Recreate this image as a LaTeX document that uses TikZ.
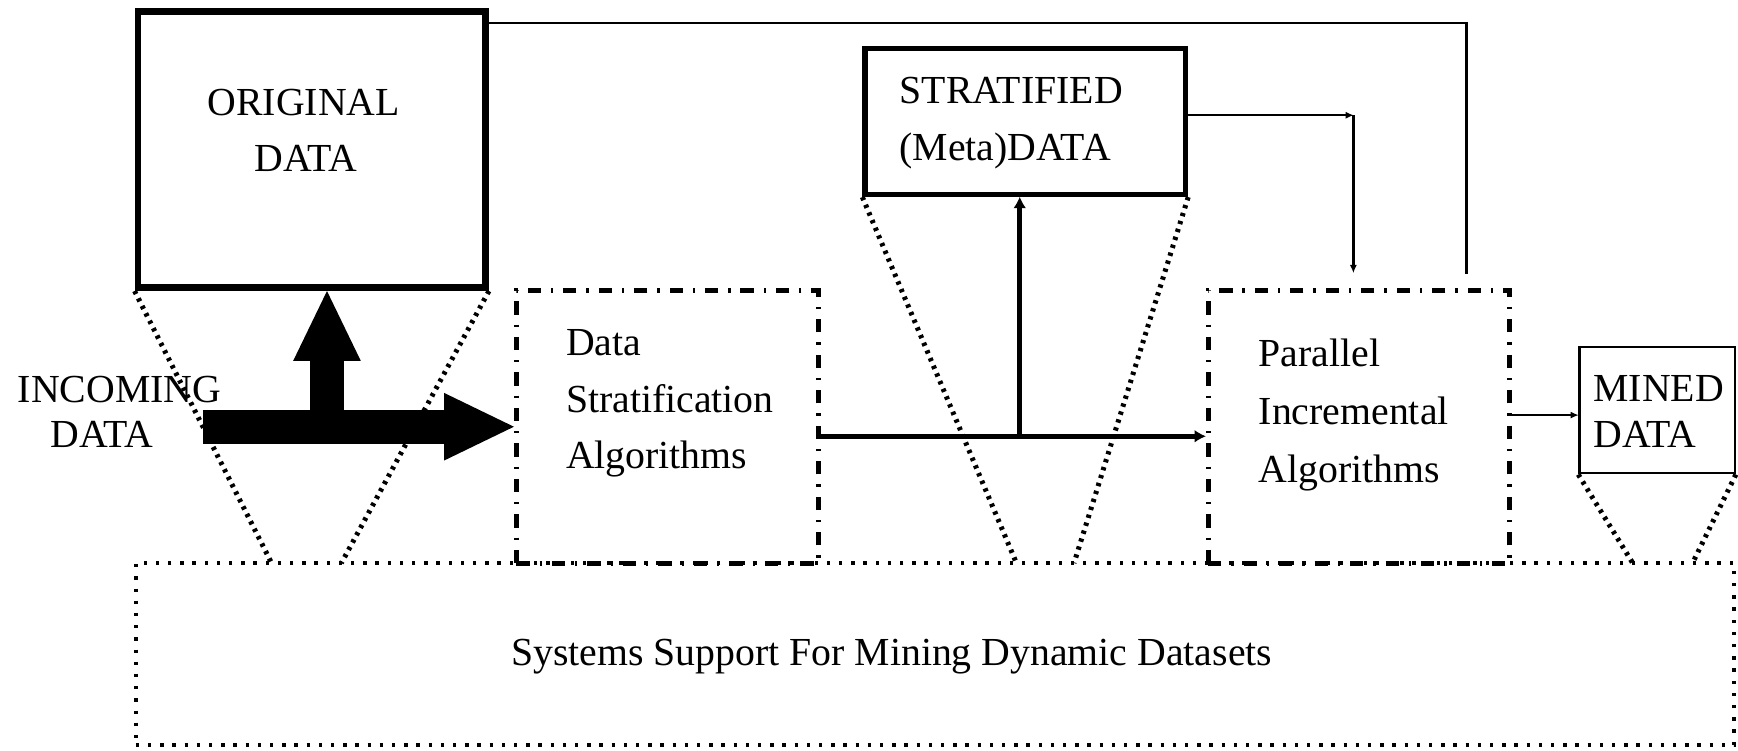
\documentclass[tikz,border=0pt]{standalone}
\usepackage{fontspec}
\setmainfont{Liberation Serif}
\usetikzlibrary{arrows.meta}
\begin{document}
\begin{tikzpicture}[
  x=0.01cm, y=-0.01cm,
  txt/.style={inner sep=0pt, font=\fontsize{10.2}{12}\selectfont},
  solidbox/.style={draw, inner sep=0pt, line width=#1},
  algobox/.style={draw, inner sep=0pt, line width=0.045cm,
    dash pattern=on 0.12cm off 0.09cm on 0.02cm off 0.09cm},
  supportbox/.style={draw, inner sep=0pt, line width=0.042cm,
    dash pattern=on 0.03cm off 0.08cm},
  funnel/.style={line width=0.045cm, dash pattern=on 0.03cm off 0.045cm},
  thinline/.style={line width=0.6pt},
  thinarrow/.style={thinline, -{Latex[length=0.07cm, width=0.06cm, line width=0pt]}},
  thickarrow/.style={line width=0.045cm, -{Latex[length=0.1cm, width=0.11cm, line width=0pt]}},
  bigarrow/.style={line width=0.31cm, -{Triangle[length=0.63cm, width=0.61cm, line width=0pt]}},
]
\fill[white] (0,0) rectangle (1568,677);
\useasboundingbox (0,0) rectangle (1568,677);

% support layer along the bottom
\node[supportbox, minimum width=14.41cm, minimum height=1.64cm] (sys) at (843.5,590) {};
\node[txt, anchor=base] (sysT) at (804.5,600) {Systems Support For Mining Dynamic Datasets};

% data stores
\node[solidbox=0.06cm, minimum width=3.135cm, minimum height=2.49cm] (orig) at (281.25,135) {};
\node[solidbox=0.048cm, minimum width=2.89cm, minimum height=1.316cm] (strat) at (925,109.6) {};
\node[solidbox=0.6pt, minimum width=1.4cm, minimum height=1.14cm] (mined) at (1495,370) {};

% algorithm stages
\node[algobox, minimum width=2.72cm, minimum height=2.46cm] (ds) at (602,385) {};
\node[algobox, minimum width=2.72cm, minimum height=2.46cm] (par) at (1226,385) {};

% funnels from each store down to the support layer
\coordinate (oL) at (245,508);
\coordinate (oR) at (308,508);
\coordinate (sL) at (917,508);
\coordinate (sR) at (969,508);
\coordinate (mL) at (1473,508);
\coordinate (mR) at (1527,508);
\draw[funnel] (orig.south west) -- (oL);
\draw[funnel] (orig.south east) -- (oR);
\draw[funnel] (strat.south west) -- (sL);
\draw[funnel] (strat.south east) -- (sR);
\draw[funnel] (mined.south west) -- (mL);
\draw[funnel] (mined.south east) -- (mR);

% labels
\node[txt, anchor=base] (origA) at (274,104) {ORIGINAL};
\node[txt, anchor=base] (origB) at (276,155) {DATA};
\node[txt, anchor=base west] (inA) at (15.5,363) {INCOMING};
\node[txt, anchor=base west] (inB) at (45,404) {DATA};
\node[txt, anchor=base west] (stA) at (811,93) {STRATIFIED};
\node[txt, anchor=base west] (stB) at (811,145) {(Meta)DATA};
\node[txt, anchor=base west] (dsA) at (510,321) {Data};
\node[txt, anchor=base west] (dsB) at (510,372) {Stratification};
\node[txt, anchor=base west] (dsC) at (510,423) {Algorithms};
\node[txt, anchor=base west] (parA) at (1135,331) {Parallel};
\node[txt, anchor=base west] (parB) at (1135,383) {Incremental};
\node[txt, anchor=base west] (parC) at (1135,435) {Algorithms};
\node[txt, anchor=base west] (minA) at (1437,362) {MINED};
\node[txt, anchor=base west] (minB) at (1437,404) {DATA};

% incoming data: main flow and branch into the original store
\coordinate (inStart) at (183,385);
\coordinate (branch) at (295,385);
\draw[bigarrow] (inStart) -- (ds.west);
\draw[bigarrow] (branch) -- (branch |- orig.south);

% stratification output: to the parallel stage and up to the stratified store
\coordinate (split) at (920,393.6);
\draw[thickarrow] (ds.east |- split) -- (par.west |- split);
\draw[thickarrow] (split) -- (split |- strat.south);

% feedback lines into the parallel stage
\coordinate (topEnd) at (1323,247);
\draw[thinline] (orig.east |- 0,21) -| (topEnd);
\coordinate (spEnd) at (1221,246);
\draw[thinarrow] (strat.east |- 0,104) -- (spEnd |- 0,104);
\draw[thinarrow] (spEnd |- 0,104) -- (spEnd);

% result
\draw[thinarrow] (par.east |- 0,374.5) -- (mined.west |- 0,374.5);
\end{tikzpicture}
\end{document}
